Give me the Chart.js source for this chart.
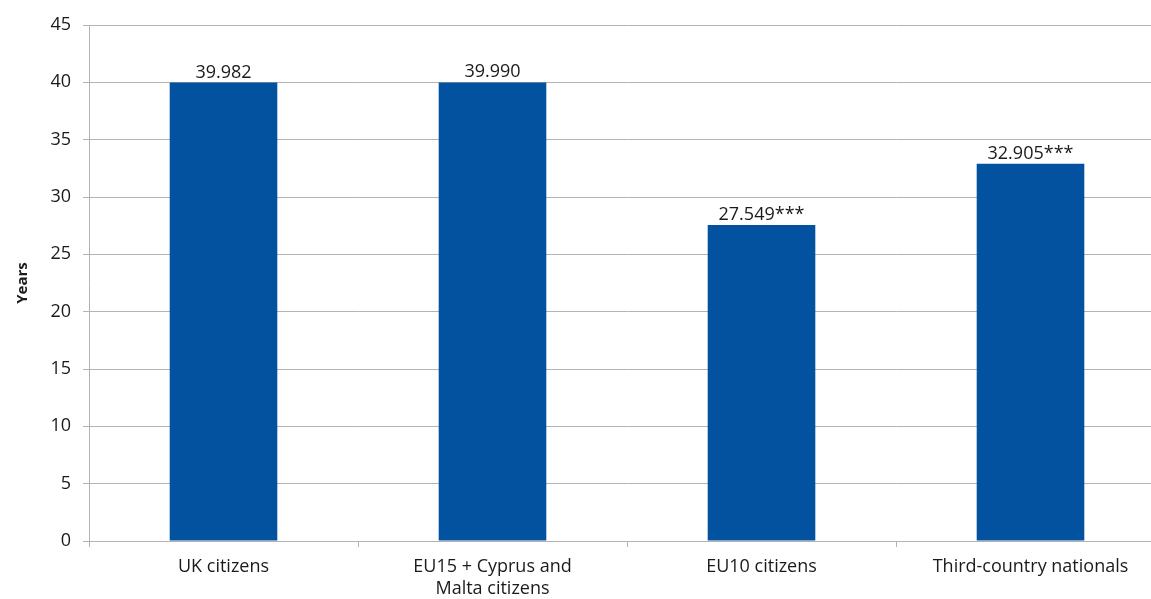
<!DOCTYPE html>
<html>
<head>
<meta charset="utf-8">
<script src="https://cdn.jsdelivr.net/npm/chart.js@4/dist/chart.umd.min.js"></script>
<style>
  html, body { margin: 0; padding: 0; background: #fff; overflow: hidden; }
  #wrap { width: 1165px; height: 599px; }
</style>
</head>
<body>
<div id="wrap"><canvas id="myChart" width="1165" height="599"></canvas></div>
<script>
// data
const categories = ["UK citizens", ["EU15 + Cyprus and", "Malta citizens"], "EU10 citizens", "Third-country nationals"];
const values = [39.982, 39.990, 27.549, 32.905];
const valueLabels = ["39.982", "39.990", "27.549***", "32.905***"];
const yTicks = [0, 5, 10, 15, 20, 25, 30, 35, 40, 45];

const FONT = "'Open Sans', 'Noto Sans', sans-serif";
const GRID = "#b3b3b3";
const TEXT = "#1a1a1a";

// draws the value above each bar
const barLabels = {
  id: "barLabels",
  afterDatasetsDraw(chart) {
    const ctx = chart.ctx;
    const meta = chart.getDatasetMeta(0);
    ctx.save();
    ctx.font = "18px " + FONT;
    ctx.fillStyle = TEXT;
    ctx.textAlign = "center";
    ctx.textBaseline = "alphabetic";
    meta.data.forEach((bar, i) => {
      ctx.fillText(valueLabels[i], bar.x, bar.y - 5);
    });
    ctx.restore();
  },
};

const ctx = document.getElementById("myChart").getContext("2d");
const myChart = new Chart(ctx, {
  type: "bar",
  data: {
    labels: categories,
    datasets: [
      {
        data: values,
        backgroundColor: "#02529f",
        borderWidth: 0,
        categoryPercentage: 1,
        barPercentage: 0.4,
      },
    ],
  },
  options: {
    responsive: false,
    animation: false,
    layout: { padding: { top: 25, right: 0, bottom: 0, left: 0 } },
    plugins: { legend: { display: false }, tooltip: { enabled: false } },
    scales: {
      x: {
        offset: true,
        grid: { offset: true, drawOnChartArea: false, drawTicks: true, tickLength: 6, color: GRID },
        border: { color: GRID, width: 1 },
        ticks: { color: TEXT, font: { family: FONT, size: 18, lineHeight: 1.22 }, padding: 9, maxRotation: 0, autoSkip: false },
        afterFit: (scale) => { scale.height = 58; },
      },
      y: {
        min: 0,
        max: 45,
        afterBuildTicks: (scale) => { scale.ticks = yTicks.map((v) => ({ value: v })); },
        grid: { color: GRID, tickLength: 6 },
        border: { color: GRID, width: 1 },
        ticks: { color: TEXT, font: { family: FONT, size: 18 }, padding: 12 },
        title: { display: true, text: "Years", color: TEXT, font: { family: FONT, size: 15, weight: "bold" }, padding: { top: 14, bottom: 14 } },
        afterFit: (scale) => { scale.width = 89; },
      },
    },
  },
  plugins: [barLabels],
});
</script>
</body>
</html>
